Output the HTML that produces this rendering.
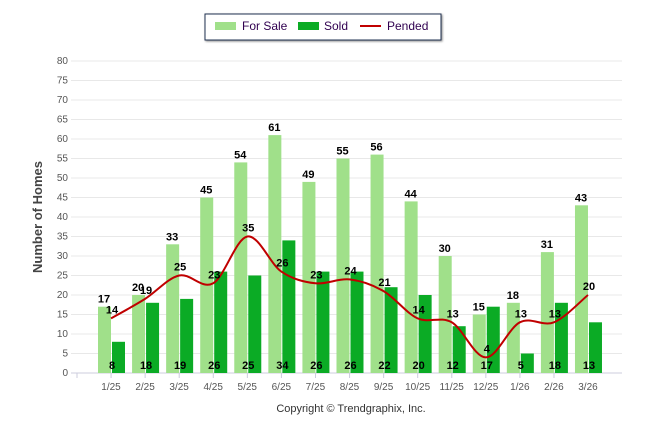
<!DOCTYPE html>
<html><head><meta charset="utf-8"><style>
body{margin:0;background:#fff;width:646px;height:434px;overflow:hidden;font-family:"Liberation Sans",sans-serif}
</style></head><body>
<svg width="646" height="434" id="svg">
<g>
<rect x="205" y="14" width="236" height="26" fill="#fff" stroke="#1f3050" stroke-width="1" style="filter:drop-shadow(1px 1px 1px #888)"/>
<rect x="215" y="22" width="21" height="8" fill="#a0e08a"/>
<text x="242" y="30" font-size="12" fill="#300050">For Sale</text>
<rect x="298" y="22" width="21" height="8" fill="#0bab25"/>
<text x="324" y="30" font-size="12" fill="#300050">Sold</text>
<line x1="360" y1="26" x2="381" y2="26" stroke="#c00000" stroke-width="2"/>
<text x="387" y="30" font-size="12" fill="#300050">Pended</text>
</g>
<text transform="translate(42,217) rotate(-90)" text-anchor="middle" font-size="13" font-weight="bold" fill="#444">Number of Homes</text>
<text x="351" y="412" text-anchor="middle" font-size="11" fill="#333">Copyright © Trendgraphix, Inc.</text>
<g id="grid"></g><g id="bars"></g><g id="line"></g><g id="labels"></g>
</svg>
<script>
const categories=["1/25","2/25","3/25","4/25","5/25","6/25","7/25","8/25","9/25","10/25","11/25","12/25","1/26","2/26","3/26"];
const forSale=[17,20,33,45,54,61,49,55,56,44,30,15,18,31,43];
const sold=[8,18,19,26,25,34,26,26,22,20,12,17,5,18,13];
const pended=[14,19,25,23,35,26,23,24,21,14,13,4,13,13,20];
const yTicks=[0,5,10,15,20,25,30,35,40,45,50,55,60,65,70,75,80];
const NS="http://www.w3.org/2000/svg";
const y0=373,yTop=61,ymax=80;
function Y(v){return y0-(v/ymax)*(y0-yTop);}
function X(i){return 111+i*34.07;}
function mk(tag,attrs,parent,txt){const e=document.createElementNS(NS,tag);for(const k in attrs)e.setAttribute(k,attrs[k]);if(txt!==undefined)e.textContent=txt;document.getElementById(parent).appendChild(e);return e;}
yTicks.forEach(t=>{
 const l=mk('line',{x1:71,x2:622,y1:Y(t),y2:Y(t),stroke:t===0?'#ccd':'#e8e8e8','stroke-width':1},'grid');
 
 
 const tx=mk('text',{x:68,y:Y(t)+3,'text-anchor':'end','font-size':10,fill:'#555'},'grid',String(t));
 
 
});
categories.forEach((c,i)=>{
 const x=X(i);
 const tk=mk('line',{x1:x-34,x2:x-34,y1:y0,y2:y0+5,stroke:'#ccd'},'grid');
 
 
 const t=mk('text',{x:x,y:390,'text-anchor':'middle','font-size':10,fill:'#555'},'grid',c);
 
 
 const b1=mk('rect',{x:x-13,y:Y(forSale[i]),width:13,height:y0-Y(forSale[i]),fill:'#a0e08a'},'bars');
 
 
 const b2=mk('rect',{x:x+1,y:Y(sold[i]),width:13,height:y0-Y(sold[i]),fill:'#0bab25'},'bars');
 
 
 const l1=mk('text',{x:x-7,y:Y(forSale[i])-4,'text-anchor':'middle','font-size':11,'font-weight':'bold',fill:'#000'},'labels',forSale[i]);
 
 
 const l2=mk('text',{x:x+1,y:369,'text-anchor':'middle','font-size':11,'font-weight':'bold',fill:'#000'},'labels',sold[i]);
 
 
 const l3=mk('text',{x:x+1,y:Y(pended[i])-5,'text-anchor':'middle','font-size':11,'font-weight':'bold',fill:'#000'},'labels',pended[i]);
 
 
});
const pts=pended.map((v,i)=>[X(i),Y(v)]);
let d='M'+pts[0][0]+','+pts[0][1];
for(let i=0;i<pts.length-1;i++){
 const p0=pts[Math.max(0,i-1)],p1=pts[i],p2=pts[i+1],p3=pts[Math.min(pts.length-1,i+2)];
 const c1=[p1[0]+(p2[0]-p0[0])/6,p1[1]+(p2[1]-p0[1])/6],c2=[p2[0]-(p3[0]-p1[0])/6,p2[1]-(p3[1]-p1[1])/6];
 d+=' C'+c1+' '+c2+' '+p2;
}
const pl=mk('path',{d:d,fill:'none',stroke:'#c00000','stroke-width':2},'line');


</script>
</body></html>
